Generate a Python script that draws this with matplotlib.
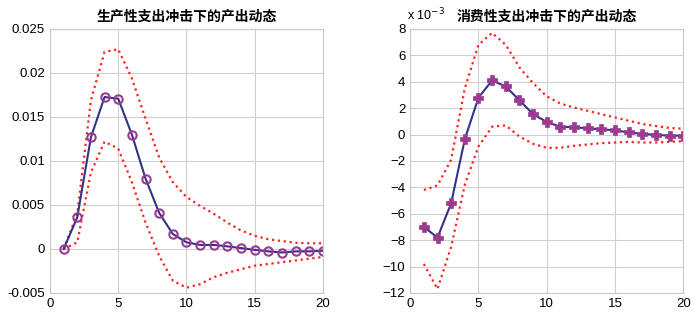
import numpy as np
import matplotlib
matplotlib.use("Agg")
import matplotlib.pyplot as plt

plt.rcParams['font.family'] = ['Liberation Sans', 'Noto Sans CJK SC', 'DejaVu Sans']

periods = list(range(1, 21))

# 生产性支出冲击
prod_mean = [0, 0.0036, 0.0127, 0.01727, 0.01708, 0.0130, 0.0080, 0.0041, 0.0017, 0.00076,
             0.00046, 0.00046, 0.0003, 0.0001, -0.0001, -0.00027, -0.0004, -0.00027, -0.00027, -0.0002]
prod_upper = [0, 0.0040, 0.0169, 0.0224, 0.0227, 0.0194, 0.0148, 0.0104, 0.0076, 0.0059,
              0.0049, 0.0040, 0.0030, 0.0021, 0.0015, 0.0011, 0.0009, 0.0007, 0.00065, 0.00065]
prod_lower = [0, 0.00076, 0.0087, 0.0122, 0.0114, 0.0076, 0.0030, -0.0008, -0.0036, -0.0044,
              -0.0040, -0.0032, -0.0027, -0.0023, -0.0019, -0.0017, -0.0015, -0.0013, -0.0011, -0.0009]

# 消费性支出冲击 (x 10^-3)
cons_mean = [-7.0, -7.8, -5.2, -0.35, 2.8, 4.1, 3.65, 2.6, 1.55, 0.95,
             0.6, 0.55, 0.48, 0.4, 0.32, 0.17, 0.05, -0.02, -0.08, -0.08]
cons_upper = [-4.2, -3.85, -1.9, 3.5, 6.8, 7.7, 6.8, 5.1, 3.9, 2.9,
              2.35, 2.05, 1.8, 1.55, 1.3, 1.05, 0.8, 0.65, 0.5, 0.45]
cons_lower = [-9.8, -11.7, -8.5, -3.8, -0.9, 0.6, 0.7, -0.15, -0.7, -1.0,
              -1.0, -0.85, -0.75, -0.65, -0.6, -0.55, -0.6, -0.6, -0.55, -0.5]

line_col = '#333388'
mark_col = '#9b3a8e'
band_col = '#ff2020'
title_font = ['Noto Sans CJK SC', 'DejaVu Sans']

fig = plt.figure(figsize=(7, 3.2), dpi=100)
ax1 = fig.add_axes([0.0714, 0.0844, 0.39, 0.825])
ax2 = fig.add_axes([0.586, 0.0844, 0.39, 0.825])

def style(ax):
    ax.grid(True, color='#d0d0d0', linewidth=0.8)
    ax.set_axisbelow(True)
    for s in ax.spines.values():
        s.set_color('#c8c8c8')
    ax.tick_params(direction='in', length=2, color='#c8c8c8', labelsize=9.5)
    ax.set_xlim(0, 20)
    ax.set_xticks([0, 5, 10, 15, 20])

ax1.plot(periods, prod_upper, ':', color=band_col, linewidth=1.6)
ax1.plot(periods, prod_lower, ':', color=band_col, linewidth=1.6)
ax1.plot(periods, prod_mean, '-', color=line_col, linewidth=1.5, marker='o',
         markersize=6, markerfacecolor='none', markeredgecolor=mark_col, markeredgewidth=1.5)
style(ax1)
ax1.set_ylim(-0.005, 0.025)
ax1.set_yticks([-0.005, 0, 0.005, 0.01, 0.015, 0.02, 0.025])
ax1.set_yticklabels(['-0.005', '0', '0.005', '0.01', '0.015', '0.02', '0.025'])
ax1.set_title('生产性支出冲击下的产出动态', family=title_font, fontweight='bold', fontsize=10, pad=6)

ax2.plot(periods, cons_upper, ':', color=band_col, linewidth=1.6)
ax2.plot(periods, cons_lower, ':', color=band_col, linewidth=1.6)
ax2.plot(periods, cons_mean, '-', color=line_col, linewidth=1.5, marker='P',
         markersize=6.5, markerfacecolor=mark_col, markeredgecolor=mark_col, markeredgewidth=0.5)
style(ax2)
ax2.set_ylim(-12, 8)
ax2.set_yticks(np.arange(-12, 9, 2))
ax2.set_title('消费性支出冲击下的产出动态', family=title_font, fontweight='bold', fontsize=10, pad=6)
ax2.text(-0.01, 1.02, r'x 10$^{-3}$', transform=ax2.transAxes, fontsize=9, ha='left', va='bottom')

fig.savefig('out.png', dpi=100)
